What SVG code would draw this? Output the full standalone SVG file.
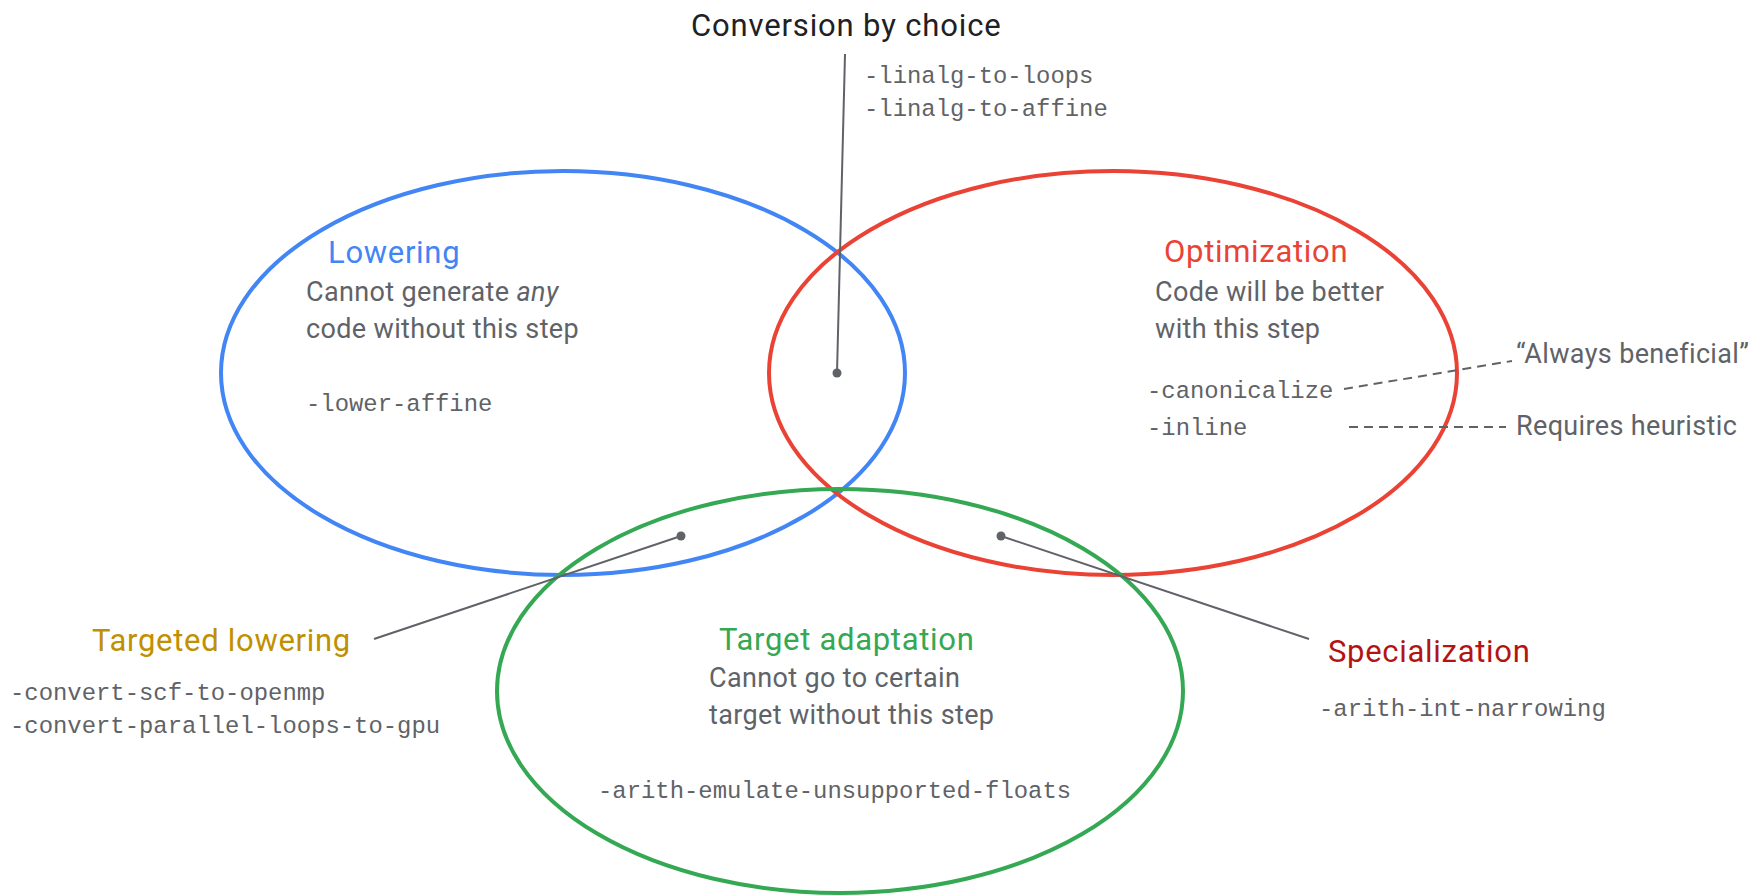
<svg xmlns="http://www.w3.org/2000/svg" width="1750" height="895" viewBox="0 0 1750 895">
  <style>
    .sans { font-family: Roboto, "Noto Sans", "Liberation Sans", sans-serif; }
    .mono { font-family: "Liberation Mono", "DejaVu Sans Mono", monospace; font-size: 23.9px; fill: #5f6368; }
    .head { font-size: 31px; letter-spacing: 0.7px; }
    .body { font-size: 27px; letter-spacing: 0.35px; fill: #5f6368; }
    .ring { fill: none; stroke-width: 4; }
    .lead { stroke: #5f6368; stroke-width: 2; fill: none; }
    .dash { stroke: #5f6368; stroke-width: 2; fill: none; stroke-dasharray: 9 6; }
    .dot { fill: #5f6368; }
  </style>
  <rect width="1750" height="895" fill="#ffffff"/>

  <!-- Venn sets -->
  <g id="lowering">
    <ellipse class="ring" cx="563" cy="373" rx="342" ry="202" stroke="#4285f4"/>
    <text class="sans head" x="328" y="263" fill="#4285f4">Lowering</text>
    <text class="sans body" x="306" y="301">Cannot generate <tspan font-style="italic">any</tspan></text>
    <text class="sans body" x="306" y="338">code without this step</text>
    <text class="mono" x="306" y="411">-lower-affine</text>
  </g>

  <g id="optimization">
    <ellipse class="ring" cx="1113" cy="373" rx="344" ry="202" stroke="#ea4335"/>
    <text class="sans head" x="1164" y="262" fill="#ea4335">Optimization</text>
    <text class="sans body" x="1155" y="301">Code will be better</text>
    <text class="sans body" x="1155" y="338">with this step</text>
    <text class="mono" x="1147" y="398">-canonicalize</text>
    <text class="mono" x="1147" y="435">-inline</text>
  </g>

  <g id="target-adaptation">
    <ellipse class="ring" cx="840" cy="691" rx="343" ry="202" stroke="#34a853"/>
    <text class="sans head" x="719" y="650" fill="#34a853">Target adaptation</text>
    <text class="sans body" x="709" y="687">Cannot go to certain</text>
    <text class="sans body" x="709" y="724">target without this step</text>
    <text class="mono" x="598" y="798">-arith-emulate-unsupported-floats</text>
  </g>

  <!-- Callout labels -->
  <g id="conversion-by-choice">
    <text class="sans" x="691" y="36" font-size="31" letter-spacing="0.85" fill="#202124">Conversion by choice</text>
    <text class="mono" x="864" y="83">-linalg-to-loops</text>
    <text class="mono" x="864" y="116">-linalg-to-affine</text>
  </g>

  <g id="targeted-lowering">
    <text class="sans head" x="92" y="651" fill="#bf9000">Targeted lowering</text>
    <text class="mono" x="10" y="700">-convert-scf-to-openmp</text>
    <text class="mono" x="10" y="733">-convert-parallel-loops-to-gpu</text>
  </g>

  <g id="specialization">
    <text class="sans head" x="1328" y="662" fill="#b31412">Specialization</text>
    <text class="mono" x="1319" y="716">-arith-int-narrowing</text>
  </g>

  <g id="always-beneficial">
    <text class="sans body" x="1516" y="363">“Always beneficial”</text>
  </g>

  <g id="requires-heuristic">
    <text class="sans body" x="1516" y="435">Requires heuristic</text>
  </g>

  <!-- Leader lines -->
  <g id="connectors">
    <line class="lead" x1="845" y1="54" x2="837" y2="373"/>
    <circle class="dot" cx="837" cy="373" r="4.5"/>
    <line class="lead" x1="374" y1="639" x2="681" y2="536"/>
    <circle class="dot" cx="681" cy="536" r="4.5"/>
    <line class="lead" x1="1309" y1="639" x2="1001" y2="536"/>
    <circle class="dot" cx="1001" cy="536" r="4.5"/>
    <line class="dash" x1="1344" y1="389" x2="1512" y2="361"/>
    <line class="dash" x1="1349" y1="427" x2="1506" y2="427"/>
  </g>
</svg>
